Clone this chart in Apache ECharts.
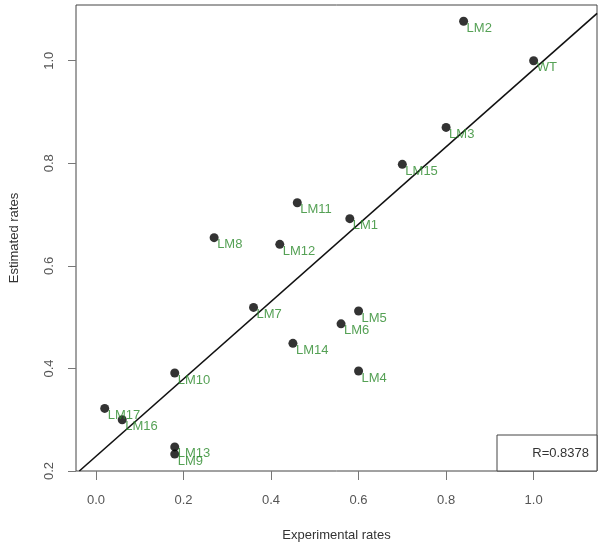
<!DOCTYPE html>
<html><head><meta charset="utf-8">
<script src="https://cdn.jsdelivr.net/npm/echarts@6/dist/echarts.min.js"></script>
<style>html,body{margin:0;padding:0;background:#fff}#c{width:601px;height:554px}</style>
</head><body><div id="c"></div>
<script>
const names = ['LM2','WT','LM3','LM15','LM11','LM1','LM12','LM8','LM7','LM5','LM6','LM14','LM4','LM10','LM17','LM16','LM13','LM9'];
const expRates = [0.84,1.00,0.80,0.70,0.46,0.58,0.42,0.27,0.36,0.60,0.56,0.45,0.60,0.18,0.02,0.06,0.18,0.18];
const estRates = [1.077,1.000,0.870,0.798,0.723,0.692,0.642,0.655,0.519,0.512,0.487,0.449,0.395,0.391,0.322,0.300,0.247,0.233];
const fitX = [-0.038, 1.145];
const fitY = [0.200, 1.0925];
const xTicks = [0.0,0.2,0.4,0.6,0.8,1.0];
const yTicks = [0.2,0.4,0.6,0.8,1.0];
const rText = 'R=0.8378';

const font = 'Liberation Sans, Arial, Helvetica, sans-serif';
const chart = echarts.init(document.getElementById('c'), null, {renderer:'canvas'});
chart.setOption({
  animation:false,
  grid:{left:75,right:4,top:5,bottom:83,show:true,borderColor:'#444',borderWidth:1,backgroundColor:'#fff'},
  xAxis:{type:'value',min:-0.0456,max:1.1448,
    name:'Experimental rates',nameLocation:'middle',nameGap:58,
    nameTextStyle:{fontFamily:font,fontSize:13,color:'#333'},
    axisLine:{show:false,onZero:false},splitLine:{show:false},
    axisTick:{show:true,length:9,customValues:xTicks,lineStyle:{color:'#777'}},
    axisLabel:{customValues:xTicks,margin:23,fontFamily:font,fontSize:13,color:'#555',formatter:v=>v.toFixed(1)}},
  yAxis:{type:'value',min:0.2,max:1.1087,
    name:'Estimated rates',nameLocation:'middle',nameGap:55,
    nameTextStyle:{fontFamily:font,fontSize:13,color:'#333'},
    axisLine:{show:false,onZero:false},splitLine:{show:false},
    axisTick:{show:true,length:8,customValues:yTicks,lineStyle:{color:'#777'}},
    axisLabel:{customValues:yTicks,rotate:90,margin:20,fontFamily:font,fontSize:13,color:'#555',formatter:v=>v.toFixed(1)}},
  series:[
    {type:'line',data:fitX.map((x,i)=>[x,fitY[i]]),symbol:'none',clip:true,
      lineStyle:{color:'#111',width:1.6},z:2},
    {type:'scatter',data:expRates.map((x,i)=>[x,estRates[i],names[i]]),symbol:'circle',symbolSize:9,
      itemStyle:{color:'#000'},z:3,
      label:{show:true,formatter:p=>p.data[2],position:[7.5,11.5],align:'left',verticalAlign:'middle',
        fontFamily:font,fontSize:13,color:'#2a8a2a'}}
  ],
  graphic:[
    {type:'rect',shape:{x:497,y:435,width:100,height:36},style:{fill:'#fff',stroke:'#444',lineWidth:1},z:10},
    {type:'text',x:589,y:453,style:{text:rText,align:'right',verticalAlign:'middle',font:'13px '+font,fill:'#333'},z:11}
  ]
});
</script></body></html>
